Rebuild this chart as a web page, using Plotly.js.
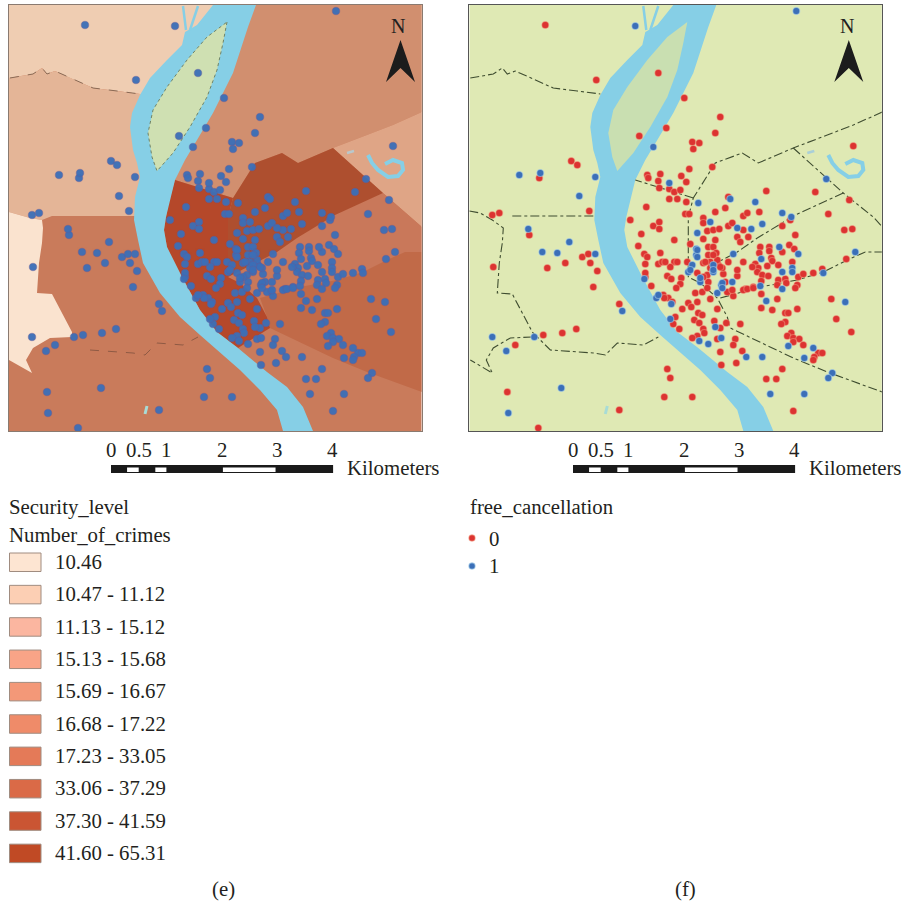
<!DOCTYPE html>
<html><head><meta charset="utf-8">
<script src="https://cdn.plot.ly/plotly-3.0.1.min.js"></script>
<style>html,body{margin:0;padding:0;background:#fff}#c{width:903px;height:904px}</style>
</head><body><div id="c"></div>
<script>
// ---- map outlines, in map units (north up, y grows downward)
var zoneNorthWest=[[9,5],[230,5],[160,94],[140,94],[117,91],[93,88],[70,78],[55,71],[47,74],[42,68],[33,74],[9,78]];
var zoneWest=[[9,78],[33,74],[42,68],[47,74],[55,71],[70,78],[93,88],[117,91],[140,94],[160,94],[150,216],[52,216],[42,220],[30,218],[9,212]];
var zoneNorthEast=[[255,5],[422,5],[422,112],[393,125],[367,135],[333,148],[298,163],[282,153],[255,163],[233,198],[175,180],[200,100]];
var zoneLake=[[422,112],[393,125],[367,135],[333,148],[383,193],[422,227]];
var zoneCentre=[[175,180],[233,198],[228,217],[228,277],[240,283],[257,298],[267,317],[270,328],[238,348],[217,332],[200,310],[182,277],[167,247],[164,230],[168,205]];
var zoneCentreEast=[[233,198],[255,163],[282,153],[298,163],[333,148],[383,193],[335,215],[297,238],[277,252],[228,277],[228,217]];
var zoneEast=[[228,277],[277,252],[297,238],[335,215],[383,193],[422,227],[422,252],[405,252],[387,260],[363,272],[337,280],[300,287],[260,298],[240,283]];
var zoneSouthEast=[[260,298],[300,287],[337,280],[363,272],[387,260],[405,252],[422,252],[422,392],[367,372],[333,358],[270,328],[267,317]];
var zonePale=[[9,212],[30,218],[42,220],[43,228],[42,243],[39,263],[37,293],[52,294],[72,332],[72,337],[50,338],[33,348],[26,360],[32,373],[9,360]];
var river=[[213,5],[197,25],[185,32],[182,45],[167,60],[150,78],[140,95],[132,113],[130,127],[133,150],[137,163],[140,177],[135,197],[134,220],[138,240],[143,263],[160,293],[180,317],[200,335],[217,350],[240,370],[260,390],[277,410],[283,431],[313,431],[303,407],[287,387],[267,372],[238,348],[217,332],[200,310],[182,277],[167,247],[164,230],[166,217],[175,180],[185,160],[197,140],[213,113],[233,73],[248,27],[256,5]];
var island=[[227,22],[223,43],[217,70],[207,97],[190,127],[173,153],[157,171],[152,157],[148,133],[153,110],[167,87],[187,60],[207,37],[227,22]];
var pond=[[368,155],[372,163],[378,170],[388,177],[398,176],[403,170],[402,163],[393,160],[385,164]];
var channelA=[[183,6],[186,30]];
var channelB=[[198,6],[190,30]];
var tarn=[[147,406],[145,414]];
var pool=[[347,153],[354,151]];
// ---- district boundaries
var borderA=[[10,78],[33,74],[42,68],[47,74],[55,71],[70,78],[93,88],[117,91],[140,94]];
var borderB=[[422,112],[393,125],[367,135],[333,148],[298,163],[282,153],[255,163],[233,198],[228,217],[228,277],[240,283],[257,298],[267,317],[270,328],[333,358],[367,372],[422,392]];
var borderC=[[233,198],[175,180]];
var borderD=[[333,148],[383,193],[413,217],[422,227]];
var borderE=[[383,193],[335,215],[297,238],[277,252],[252,265]];
var borderF=[[260,298],[300,287],[337,280],[363,272],[387,260],[405,252],[422,252]];
var borderG=[[9,211],[20,213],[32,220],[43,228],[42,243],[39,263],[37,293],[52,294],[72,332],[90,350],[133,353],[145,355],[157,343],[183,345],[198,337]];
var borderH=[[72,337],[50,338],[33,348],[26,360],[32,373],[10,360]];
var borderI=[[52,216],[133,216]];
// ---- hotels
var freeCancel0=[[85,25],[136,80],[198,73],[224,98],[206,128],[179,136],[260,117],[255,133],[232,142],[239,143],[233,149],[111,161],[117,165],[79,178],[229,169],[252,167],[393,146],[129,211],[32,215],[39,213],
[187,175],[188,178],[200,174],[221,176],[198,181],[226,182],[199,188],[209,189],[214,192],[220,190],[209,199],[217,199],[226,202],[186,207],[170,220],[193,226],[199,222],[199,229],[181,234],[214,240],[178,246],[200,253],[184,254],[187,257],[185,264],[198,264],[202,262],[225,214],[229,214],[255,212],[268,197],[265,208],[243,218],[243,223],[247,231],[253,230],[259,229],[268,226],[272,223],[283,216],[287,213],[283,230],[277,237],[280,242],[288,237],[243,239],[255,240],[230,244],[248,247],[253,247],[256,253],[248,255],[214,262],[210,267],
[306,191],[355,192],[389,200],[299,212],[368,214],[330,220],[322,226],[384,230],[392,229],[335,235],[386,259],[329,245],[334,249],[300,247],[299,253],[309,247],[309,251],[322,252],[311,258],[312,261],[318,265],[295,264],[298,268],[307,266],[332,262],[362,269],
[185,277],[191,286],[207,276],[211,279],[221,278],[220,284],[216,288],[237,273],[247,275],[248,282],[263,274],[277,276],[265,282],[203,295],[208,298],[212,302],[235,293],[242,292],[247,288],[250,299],[237,302],[228,303],[231,307],[222,309],[257,309],[238,313],[242,315],[215,317],[213,324],[219,329],[234,320],[239,323],[254,321],[266,323],[260,328],[280,324],[243,329],[244,333],[237,336],[232,338],[257,339],[275,339],[273,345],[260,352],[282,351],[261,365],[276,363],[207,369],[210,378],[271,292],[285,289],[273,296],[267,292],
[297,272],[302,275],[308,276],[301,281],[293,287],[318,280],[325,279],[326,283],[317,285],[338,277],[343,274],[353,273],[337,285],[335,288],[301,294],[317,299],[301,308],[312,310],[325,313],[328,313],[337,309],[325,322],[321,324],[371,299],[376,319],[391,332],[331,333],[327,336],[333,338],[339,339],[333,342],[343,345],[358,353],[362,353],[354,357],[353,360],[322,369],[306,379],[316,379],
[69,235],[33,267],[87,268],[105,263],[122,257],[128,254],[130,263],[137,271],[133,287],[83,335],[102,333],[116,329],[55,345],[47,392],[78,428],[159,304],[159,410],[204,397],[232,397],[333,411],
[227,262],[243,263],[250,262],[258,265],[262,268],[268,262],[283,262],[292,267],[185,273],[204,298],
[257,260],[253,255],[260,267],[217,262],[243,277],[277,270],[272,290],[250,268],[245,262],[205,262],[283,290],[287,289],[293,288]];
var freeCancel1=[[336,11],[175,26],[193,147],[59,175],[80,173],[135,177],[119,196],[366,179],
[209,183],[238,203],[237,233],[250,222],[270,199],[277,228],[236,249],[236,255],[232,265],[273,254],
[295,202],[322,213],[331,217],[302,224],[291,229],[319,247],[338,254],[395,252],[301,259],[332,268],
[184,279],[196,298],[198,295],[210,319],[211,304],[240,282],[228,272],[253,272],[261,285],[257,293],[272,282],[255,327],[261,338],[239,341],[248,344],[286,357],
[322,272],[332,272],[363,273],[300,286],[322,289],[306,301],[385,302],[328,346],[353,348],[302,357],[344,358],[372,373],[368,378],
[68,229],[82,252],[97,253],[109,242],[135,254],[32,337],[46,351],[74,337],[101,388],[48,413],[162,311],[310,394],[344,394],
[230,270],[253,265],[253,270],[262,283],[262,288],[237,250],[237,257],[240,278]];
// ---- legends and scale
var crimeClasses=["10.46","10.47 - 11.12","11.13 - 15.12","15.13 - 15.68","15.69 - 16.67","16.68 - 17.22","17.23 - 33.05","33.06 - 37.29","37.30 - 41.59","41.60 - 65.31"];
var crimeColours=["#fde5d2","#fccfb4","#fbb6a0","#f9a487","#f39878","#ef8b69","#e47a58","#da6a47","#ca5533","#c04a25"];
var scaleKm=[0,0.5,1,2,3,4];
var scaleWhite=[[0.29,0.5],[0.8,1],[2.02,2.97]];

var W=903,H=904,FONT='"Liberation Serif",serif',INK='#231f20';
var X0=9,X1=421.5,Y0=5,Y1=431;
function xs(a){return a.map(function(p){return p[0]})}
function ys(a){return a.map(function(p){return p[1]})}
function px(v){return v/W} function py(v){return 1-v/H}
var traces=[];
function poly(a,col,ax,ay){traces.push({type:'scatter',mode:'lines',x:xs(a),y:ys(a),xaxis:ax,yaxis:ay,fill:'toself',fillcolor:col,line:{width:0,color:col},hoverinfo:'skip',showlegend:false});}
function path(a,col,w,dash,ax,ay){traces.push({type:'scatter',mode:'lines',x:xs(a),y:ys(a),xaxis:ax,yaxis:ay,line:{color:col,width:w,dash:dash||'solid'},hoverinfo:'skip',showlegend:false});}
function dots(a,col,halo,op,ax,ay,sz){traces.push({type:'scatter',mode:'markers',x:xs(a),y:ys(a),xaxis:ax,yaxis:ay,marker:{color:col,size:sz||7,opacity:op,line:{color:halo,width:1.2}},hoverinfo:'skip',showlegend:false});}

var RIVER='#86cfe6';
// map (e)
poly([[9,5],[422,5],[422,431],[9,431]],'#c97b5b','x','y');
poly(zoneNorthWest,'#efcdb2','x','y');
poly(zoneWest,'#e4b597','x','y');
poly(zoneNorthEast,'#d18f6f','x','y');
poly(zoneLake,'#dfa586','x','y');
poly(zoneEast,'#c9785a','x','y');
poly(zoneSouthEast,'#c16a48','x','y');
poly(zoneCentreEast,'#ae4f2f','x','y');
poly(zoneCentre,'#b5482a','x','y');
poly(zonePale,'#fae3cf','x','y');
poly(river,RIVER,'x','y');
poly(island,'#cfe0b2','x','y');
path(island,'#5f6d4c',0.8,'dot','x','y');
path(channelA,RIVER,2.5,null,'x','y');path(channelB,RIVER,2.5,null,'x','y');
path(pond,RIVER,4,null,'x','y');path(tarn,'#a8dcd6',3,null,'x','y');path(pool,'#b9c8cc',2.5,null,'x','y');
path(borderA,'#8a6a55',1,'dash','x','y');
path(borderG.slice(9),'#8f5a44',1,'dash','x','y');
dots(freeCancel0.concat(freeCancel1),'#3b6fb8','rgba(110,90,150,0.35)',0.95,'x','y',7.5);
// map (f)
poly([[9,5],[422,5],[422,431],[9,431]],'#dfe9b4','x2','y2');
poly(river,RIVER,'x2','y2');
poly(island,'#c9dfb1','x2','y2');
path(channelA,RIVER,2.5,null,'x2','y2');path(channelB,RIVER,2.5,null,'x2','y2');
path(pond,RIVER,4,null,'x2','y2');path(tarn,'#a8dcd6',3,null,'x2','y2');path(pool,'#a9cfd8',2.5,null,'x2','y2');
[borderA,borderC,borderD,borderE,borderF,borderH,borderI,borderG].forEach(function(b){path(b,'#3f4d30',1.1,'dashdot','x2','y2');});
path(borderB,'#3f4d30',1.1,'dashdot','x2','y2');
dots(freeCancel0,'#dc3331','rgba(245,170,140,0.45)',1,'x2','y2',7);
dots(freeCancel1,'#3b6fb8','rgba(170,210,235,0.55)',1,'x2','y2',7);

var anns=[],shapes=[];
function txt(t,x,y,anchor,size){anns.push({text:t,xref:'paper',yref:'paper',x:px(anchor==='center'?x:x-2),y:py(y),xanchor:anchor||'left',yanchor:'middle',showarrow:false,font:{family:FONT,size:size||20.8,color:INK},align:'left'});}
function rect(x0,y0,x1,y1,fill,line){shapes.push({type:'rect',xref:'paper',yref:'paper',x0:px(x0),x1:px(x1),y0:py(y0),y1:py(y1),fillcolor:fill,line:{color:line||fill,width:line?1:0},layer:'above'});}
// scale bars
[[111,55.4,347],[573,55.4,809]].forEach(function(s){
  rect(s[0],465,s[0]+4*s[1]+0.5,473,'#1a1a1a');
  scaleWhite.forEach(function(w){rect(s[0]+w[0]*s[1],467.5,s[0]+w[1]*s[1],472,'#ffffff');});
  scaleKm.forEach(function(k){txt(String(k),s[0]+k*s[1],449,'center');});
  txt('Kilometers',s[2],467,'left');
});
// north arrows
function arrow(cx,ax,ay){
  var p=function(a,b){return a+','+b};
  shapes.push({type:'path',xref:ax,yref:ay,path:'M'+p(cx,40)+' L'+p(cx-14.5,82)+' L'+p(cx,68)+' L'+p(cx+14.5,82)+' Z',fillcolor:'#1c1c1c',line:{width:0},layer:'above'});
}
arrow(400.5,'x','y');arrow(388.5,'x2','y2');
txt('N',398,26,'center',20);txt('N',847,26,'center',20);
// legend (e)
txt('Security_level',9,507);txt('Number_of_crimes',9,534);
crimeClasses.forEach(function(c,i){
  var top=553+i*32.35;
  rect(9.5,top,41,top+18.5,crimeColours[i],'#a08c80');
  txt(c,55,top+8.5);
});
// legend (f)
txt('free_cancellation',470,507);
txt('0',489,538);txt('1',489,565);
shapes.push({type:'circle',xref:'paper',yref:'paper',x0:px(468.8),x1:px(475.2),y0:py(534.8),y1:py(541.2),fillcolor:'#dc3331',line:{color:'rgba(245,170,140,0.5)',width:1.2}});
shapes.push({type:'circle',xref:'paper',yref:'paper',x0:px(468.8),x1:px(475.2),y0:py(562.8),y1:py(569.2),fillcolor:'#3b6fb8',line:{color:'rgba(170,210,235,0.6)',width:1.2}});
txt('(e)',223,889,'center');txt('(f)',685,889,'center');

function axis(dom,rng,anchor,col){return {domain:dom,range:rng,anchor:anchor,showgrid:false,zeroline:false,showticklabels:false,ticks:'',showline:true,mirror:true,linecolor:col,linewidth:1,fixedrange:true};}
var layout={width:W,height:H,margin:{l:0,r:0,t:0,b:0},paper_bgcolor:'#fff',plot_bgcolor:'#fff',showlegend:false,
 xaxis:axis([px(X0),px(X1)],[X0,X1],'y','#8a7a70'),yaxis:axis([py(Y1),py(Y0)],[Y1,Y0],'x','#8a7a70'),
 xaxis2:axis([px(X0+460.3),px(X1+460.3)],[X0,X1],'y2','#555'),yaxis2:axis([py(Y1),py(Y0)],[Y1,Y0],'x2','#555'),
 annotations:anns,shapes:shapes};
Plotly.newPlot('c',traces,layout,{staticPlot:true,displayModeBar:false});
</script></body></html>
